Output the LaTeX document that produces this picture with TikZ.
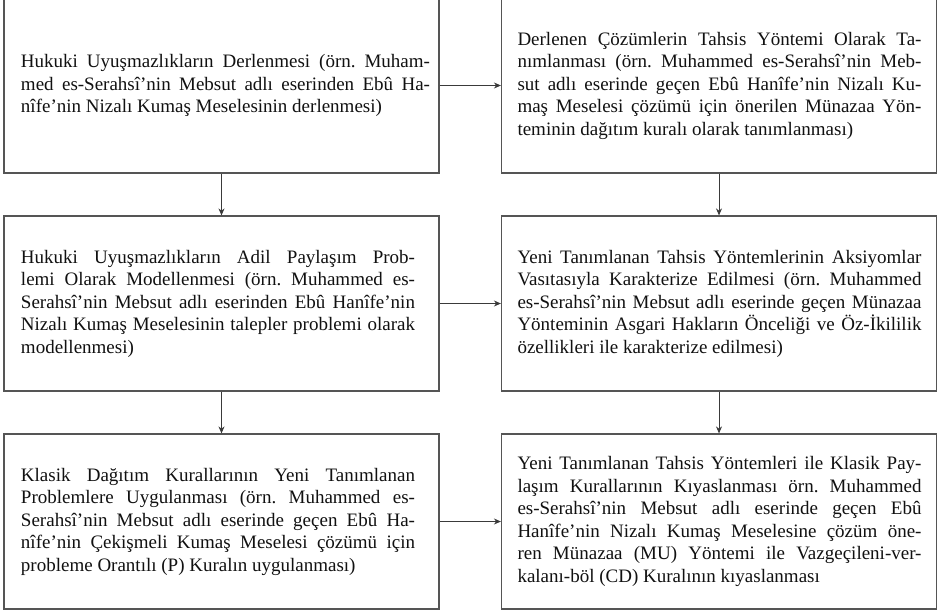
\documentclass[tikz,border=0pt]{standalone}
\usepackage{fontspec}
\setmainfont{Liberation Serif}
\usetikzlibrary{arrows.meta}
\definecolor{boxgray}{HTML}{555555}
\definecolor{arrgray}{HTML}{3A3A3A}
\definecolor{txt}{HTML}{111111}
\frenchspacing
\newcommand{\jl}[1]{\makebox[\linewidth][s]{#1}\\}
\newcommand{\boxtext}[4]{\hspace*{#1pt}\parbox{#2pt}{\fontsize{19}{22.5}\selectfont\frenchspacing\color{txt}#4}\hspace*{#3pt}}
\tikzset{
  stagebox/.style={draw=boxgray, line width=1.2pt, minimum width=435pt, minimum height=175pt, inner sep=0pt, fill=white},
  flowarrow/.style={draw=arrgray, line width=0.9pt, -{Stealth[length=7pt,width=6pt]}}
}
\begin{document}
\begin{tikzpicture}[x=1pt,y=-1pt]
\useasboundingbox (0,0) rectangle (937,613);
\fill[white] (0,0) rectangle (937,613);

\node[stagebox] (tl) at (221.5,85.5) {\boxtext{17}{409}{9}{%
\jl{Hukuki Uyuşmazlıkların Derlenmesi (örn. Muham-}
\jl{med es-Serahsî’nin Mebsut adlı eserinden Ebû Ha-}
nîfe’nin Nizalı Kumaş Meselesinin derlenmesi)}};

\node[stagebox] (tr) at (719,85.5) {\boxtext{16}{404}{15}{%
\jl{Derlenen Çözümlerin Tahsis Yöntemi Olarak Ta-}
\jl{nımlanması (örn. Muhammed es-Serahsî’nin Meb-}
\jl{sut adlı eserinde geçen Ebû Hanîfe’nin Nizalı Ku-}
\jl{maş Meselesi çözümü için önerilen Münazaa Yön-}
teminin dağıtım kuralı olarak tanımlanması)}};

\node[stagebox] (ml) at (221.5,303.5) {\boxtext{17}{394}{24}{%
\jl{Hukuki Uyuşmazlıkların Adil Paylaşım Prob-}
\jl{lemi Olarak Modellenmesi (örn. Muhammed es-}
\jl{Serahsî’nin Mebsut adlı eserinden Ebû Hanîfe’nin}
\jl{Nizalı Kumaş Meselesinin talepler problemi olarak}
modellenmesi)}};

\node[stagebox] (mr) at (719,303.5) {\boxtext{16}{404}{15}{%
\jl{Yeni Tanımlanan Tahsis Yöntemlerinin Aksiyomlar}
\jl{Vasıtasıyla Karakterize Edilmesi (örn. Muhammed}
\jl{es-Serahsî’nin Mebsut adlı eserinde geçen Münazaa}
\jl{Yönteminin Asgari Hakların Önceliği ve Öz-İkililik}
özellikleri ile karakterize edilmesi)}};

\node[stagebox] (bl) at (221.5,521.5) {\boxtext{17}{394}{24}{%
\jl{Klasik Dağıtım Kurallarının Yeni Tanımlanan}
\jl{Problemlere Uygulanması (örn. Muhammed es-}
\jl{Serahsî’nin Mebsut adlı eserinde geçen Ebû Ha-}
\jl{nîfe’nin Çekişmeli Kumaş Meselesi çözümü için}
probleme Orantılı (P) Kuralın uygulanması)}};

\node[stagebox] (br) at (719,521.5) {\boxtext{16}{404}{15}{%
\jl{Yeni Tanımlanan Tahsis Yöntemleri ile Klasik Pay-}
\jl{laşım Kurallarının Kıyaslanması örn. Muhammed}
\jl{es-Serahsî’nin Mebsut adlı eserinde geçen Ebû}
\jl{Hanîfe’nin Nizalı Kumaş Meselesine çözüm öne-}
\jl{ren Münazaa (MU) Yöntemi ile Vazgeçileni-ver-}
kalanı-böl (CD) Kuralının kıyaslanması}};

\draw[flowarrow] (tl) -- (tr);
\draw[flowarrow] (ml) -- (mr);
\draw[flowarrow] (bl) -- (br);
\draw[flowarrow] (tl) -- (ml);
\draw[flowarrow] (ml) -- (bl);
\draw[flowarrow] (tr) -- (mr);
\draw[flowarrow] (mr) -- (br);
\end{tikzpicture}
\end{document}
